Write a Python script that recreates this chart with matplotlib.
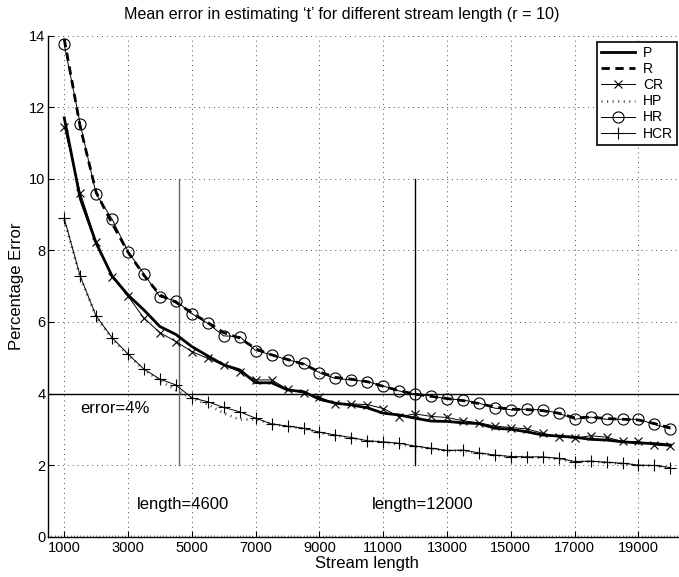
import matplotlib
matplotlib.use("Agg")
import matplotlib.pyplot as plt
from matplotlib.ticker import MultipleLocator

plt.rcParams['font.family'] = ['Liberation Sans', 'DejaVu Sans']

lengths = [1000, 1500, 2000, 2500, 3000, 3500, 4000, 4500, 5000, 5500,
           6000, 6500, 7000, 7500, 8000, 8500, 9000, 9500, 10000, 10500,
           11000, 11500, 12000, 12500, 13000, 13500, 14000, 14500, 15000, 15500,
           16000, 16500, 17000, 17500, 18000, 18500, 19000, 19500, 20000]

P = [11.70, 9.45, 8.20, 7.28, 6.75, 6.33, 5.87, 5.65, 5.31, 5.05,
     4.80, 4.66, 4.30, 4.30, 4.10, 4.05, 3.84, 3.73, 3.68, 3.60,
     3.45, 3.40, 3.31, 3.23, 3.22, 3.18, 3.16, 3.03, 3.00, 2.93,
     2.84, 2.81, 2.78, 2.72, 2.70, 2.65, 2.62, 2.60, 2.56]

R = [13.90, 11.45, 9.62, 8.75, 7.95, 7.30, 6.75, 6.55, 6.25, 5.98,
     5.70, 5.55, 5.25, 5.08, 4.95, 4.82, 4.60, 4.45, 4.40, 4.33,
     4.20, 4.08, 3.98, 3.92, 3.86, 3.80, 3.72, 3.62, 3.56, 3.55,
     3.52, 3.45, 3.32, 3.34, 3.30, 3.28, 3.26, 3.16, 3.04]

CR = [11.45, 9.61, 8.24, 7.25, 6.72, 6.10, 5.70, 5.45, 5.17, 4.98,
      4.79, 4.61, 4.38, 4.38, 4.12, 4.01, 3.90, 3.71, 3.71, 3.69,
      3.58, 3.35, 3.43, 3.36, 3.33, 3.24, 3.18, 3.09, 3.05, 3.01,
      2.89, 2.79, 2.75, 2.82, 2.78, 2.66, 2.66, 2.56, 2.53]

HP = [8.85, 7.25, 6.15, 5.52, 5.08, 4.66, 4.36, 4.10, 3.86, 3.70,
      3.45, 3.27, 3.28, 3.15, 3.08, 3.02, 2.90, 2.83, 2.75, 2.68,
      2.64, 2.58, 2.52, 2.46, 2.40, 2.40, 2.33, 2.27, 2.23, 2.22,
      2.21, 2.17, 2.09, 2.10, 2.07, 2.04, 1.99, 1.98, 1.92]

HR = [13.75, 11.53, 9.57, 8.87, 7.96, 7.34, 6.70, 6.59, 6.23, 5.96,
      5.61, 5.59, 5.20, 5.08, 4.94, 4.84, 4.58, 4.42, 4.38, 4.33,
      4.21, 4.07, 3.99, 3.93, 3.85, 3.82, 3.73, 3.59, 3.55, 3.56,
      3.54, 3.45, 3.28, 3.34, 3.28, 3.28, 3.28, 3.14, 3.01]

HCR = [8.89, 7.28, 6.16, 5.56, 5.10, 4.68, 4.40, 4.24, 3.88, 3.77,
       3.61, 3.49, 3.31, 3.15, 3.09, 3.03, 2.92, 2.84, 2.77, 2.68,
       2.65, 2.61, 2.53, 2.47, 2.41, 2.42, 2.34, 2.28, 2.24, 2.23,
       2.23, 2.19, 2.10, 2.11, 2.08, 2.05, 2.00, 1.99, 1.93]

x_ticks = [1000, 3000, 5000, 7000, 9000, 11000, 13000, 15000, 17000, 19000]
y_ticks = [0, 2, 4, 6, 8, 10, 12, 14]

W, H = 679, 577
fig = plt.figure(figsize=(W / 100, H / 100), dpi=100)
ax = fig.add_axes([48.3 / W, (H - 536.7) / H, 638 / W, 501.2 / H])
ax.set_xlim(500, 20500)
ax.set_ylim(0, 14)

ax.plot(lengths, P, color='black', lw=2.0, ls='-', label='P', zorder=4)
ax.plot(lengths, R, color='black', lw=2.0, ls=(0, (3, 2)), label='R', zorder=4)
ax.plot(lengths, CR, color='black', lw=0.7, marker='x', ms=5.5, mew=0.8, label='CR', zorder=3)
ax.plot(lengths, HP, color='0.35', lw=2.0, ls=(0, (0.4, 1.6)), label='HP', zorder=3)
ax.plot(lengths, HR, color='black', lw=0.7, marker='o', ms=8, mfc='none', mew=0.8, label='HR', zorder=3)
ax.plot(lengths, HCR, color='black', lw=0.7, marker='+', ms=8, mew=0.8, label='HCR', zorder=3)

# reference lines
ax.axhline(4, color='black', lw=1.0, zorder=2)
ax.plot([4600, 4600], [2, 10], color='0.4', lw=1.0, zorder=2)
ax.plot([12000, 12000], [2, 10], color='black', lw=1.0, zorder=2)
ax.text(1494, 3.59, 'error=4%', fontsize=12, va='center', ha='left')
ax.text(3280, 0.89, 'length=4600', fontsize=12, va='center', ha='left')
ax.text(10640, 0.89, 'length=12000', fontsize=12, va='center', ha='left')

ax.set_xticks(x_ticks)
ax.set_yticks(y_ticks)
ax.set_xticklabels([str(v) for v in x_ticks])
ax.xaxis.set_minor_locator(MultipleLocator(100))
ax.tick_params(axis='both', which='major', direction='in', length=4, width=0.8, labelsize=10.5)
ax.tick_params(axis='x', which='minor', direction='in', length=1.5, width=0.6, color='0.4')
ax.tick_params(axis='x', pad=3)
ax.tick_params(axis='y', pad=2)
ax.grid(True, which='major', color='0.3', ls=(0, (1, 4)), lw=0.7)
ax.spines['top'].set_visible(False)
ax.spines['right'].set_visible(False)
ax.spines['left'].set_linewidth(1.0)
ax.spines['bottom'].set_linewidth(1.0)

ax.set_xlabel('Stream length', fontsize=12, labelpad=1)
ax.set_ylabel('Percentage Error', fontsize=12, labelpad=4)
fig.text(342 / W, 1 - 15 / H, 'Mean error in estimating \u2018t\u2019 for different stream length (r = 10)',
         ha='center', va='center', fontsize=11.6)

leg = ax.legend(loc='upper right', bbox_to_anchor=(677 / W, 1 - 42 / H),
                bbox_transform=fig.transFigure, fontsize=10, frameon=True,
                fancybox=False, edgecolor='black', framealpha=1,
                handlelength=2.4, borderpad=0.3, labelspacing=0.15,
                handletextpad=0.6, borderaxespad=0)
leg.get_frame().set_linewidth(1.2)

fig.savefig('out.png', dpi=100)
